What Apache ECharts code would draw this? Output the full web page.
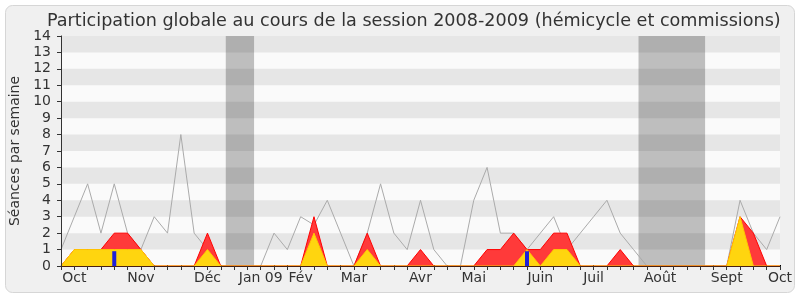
<!DOCTYPE html>
<html><head><meta charset="utf-8">
<script src="https://cdn.jsdelivr.net/npm/echarts@6/dist/echarts.min.js"></script>
<style>html,body{margin:0;padding:0;background:#fff}#c{width:800px;height:300px}</style>
</head><body><div id="c"></div>
<script>
// week index 0..54
const monthIdx = [1, 6, 11, 15, 18, 22, 27, 31, 36, 40, 45, 50, 54];
const monthTxt = ['Oct', 'Nov', 'Déc', 'Jan 09', 'Fév', 'Mar', 'Avr', 'Mai', 'Juin', 'Juil', 'Août', 'Sept', 'Oct'];
const total = [1,3,5,2,5,2,1,3,2,8,2,1,0,0,0,0,2,1,3,2.5,4,2,0,2,5,2,1,4,1,0,0,4,6,2,2,1,2,3,1,2,3,4,2,1,0,0,0,0,0,0,0,4,2,1,3];
const presence = [0,1,1,1,2,2,1,0,0,0,0,2,0,0,0,0,0,0,0,3,0,0,0,2,0,0,0,1,0,0,0,0,1,1,2,1,1,2,2,0,0,0,1,0,0,0,0,0,0,0,0,3,2,0,0];
const participation = [0,1,1,1,1,1,1,0,0,0,0,1,0,0,0,0,0,0,0,2,0,0,0,1,0,0,0,0,0,0,0,0,0,0,0,1,0,1,1,0,0,0,0,0,0,0,0,0,0,0,0,3,0,0,0];
const questions = [0,0,0,0,0.9,0,0,0,0,0,0,0,0,0,0,0,0,0,0,0,0,0,0,0,0,0,0,0,0,0,0,0,0,0,0,0.9,0,0,0,0,0,0,0,0,0,0,0,0,0,0,0,0,0,0,0];
const holidays = [[12.375, 14.5], [43.375, 48.375]];
const yMax = 14;

const pairs = arr => arr.map((v, i) => [i, v]);
const stripes = [];
for (let y = 1; y < yMax; y += 2) stripes.push([{ yAxis: y }, { yAxis: y + 1 }]);

const font = 'DejaVu Sans';
const chart = echarts.init(document.getElementById('c'), null, { renderer: 'canvas' });
chart.setOption({
  animation: false,
  backgroundColor: '#ffffff',
  graphic: { elements: [{
    type: 'rect', z: -100, silent: true,
    shape: { x: 5.5, y: 5.5, width: 789, height: 287, r: 7 },
    style: { fill: '#f0f0f0', stroke: '#d6d6d6', lineWidth: 1 }
  }] },
  title: {
    text: 'Participation globale au cours de la session 2008-2009 (hémicycle et commissions)',
    left: 42, top: 7,
    textStyle: { fontSize: 17.6, fontWeight: 'normal', color: '#333', fontFamily: font }
  },
  grid: { left: 61, right: 20, top: 36, bottom: 34, show: true, backgroundColor: '#fafafa', borderWidth: 0 },
  xAxis: [{
    type: 'value', min: 0, max: 54, interval: 1, z: 10,
    axisLine: { show: true, onZero: false, lineStyle: { color: '#4a2010' } },
    axisTick: { show: true, length: 4, lineStyle: { color: '#333' } },
    axisLabel: {
      formatter: v => { const i = monthIdx.indexOf(v); return i >= 0 ? monthTxt[i] : ''; },
      fontSize: 14, color: '#333', margin: 5, fontFamily: font
    },
    splitLine: { show: false }
  }, {
    type: 'value', position: 'top', min: 0, max: 54, interval: 1,
    axisLine: { show: false },
    axisTick: { show: true, length: 1, lineStyle: { color: '#000' } },
    axisLabel: { show: false }, splitLine: { show: false }
  }],
  yAxis: [{
    type: 'value', min: 0, max: yMax, interval: 1, z: 10,
    axisLine: { show: true, lineStyle: { color: '#333' } },
    axisTick: { show: true, length: 4, lineStyle: { color: '#333' } },
    axisLabel: { fontSize: 14, color: '#333', margin: 10, fontFamily: font },
    splitLine: { show: false },
    name: 'Séances par semaine', nameLocation: 'middle', nameGap: 35,
    nameTextStyle: { fontSize: 14, color: '#333', fontFamily: font }
  }, {
    type: 'value', position: 'right', min: 0, max: yMax, interval: 1,
    axisLine: { show: true, lineStyle: { color: '#c8c8c8' } },
    axisTick: { show: false }, axisLabel: { show: false }, splitLine: { show: false }
  }],
  series: [
    { type: 'line', z: 1, data: [], silent: true,
      markArea: { silent: true, itemStyle: { color: '#bebebe' },
        data: holidays.map(h => [{ xAxis: h[0] }, { xAxis: h[1] }]) } },
    { type: 'line', z: 2, data: [], silent: true,
      markArea: { silent: true, itemStyle: { color: 'rgba(0,0,0,0.08)' }, data: stripes } },
    { type: 'line', z: 3, data: pairs(total), showSymbol: false,
      lineStyle: { color: '#aaaaaa', width: 1 } },
    { type: 'line', z: 4, data: pairs(presence), showSymbol: false,
      lineStyle: { color: '#ff0000', width: 1 },
      areaStyle: { color: '#ff3a3a', opacity: 1 } },
    { type: 'line', z: 5, data: pairs(participation), showSymbol: false,
      lineStyle: { color: '#ffc800', width: 1 },
      areaStyle: { color: '#ffd50f', opacity: 1 } },
    { type: 'bar', z: 6, data: pairs(questions), barWidth: 4,
      itemStyle: { color: '#2020d8' } }
  ]
});
</script></body></html>
